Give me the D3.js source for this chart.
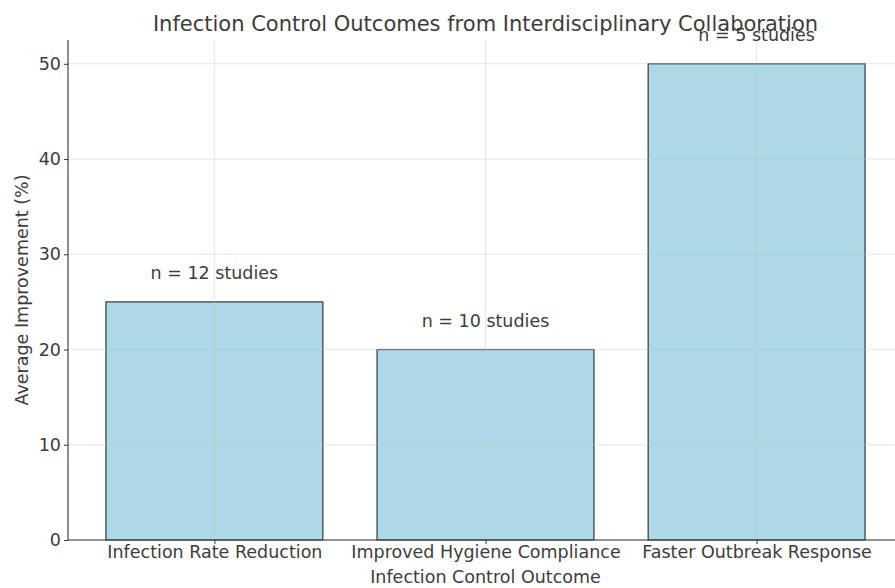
<!DOCTYPE html>
<html><head><meta charset="utf-8">
<script src="https://cdn.jsdelivr.net/npm/d3@7"></script>
<style>body{margin:0;background:#fff}text{font-family:"DejaVu Sans",sans-serif}</style>
</head><body><svg id="c" width="895" height="588"></svg>
<script>
const categories = ["Infection Rate Reduction", "Improved Hygiene Compliance", "Faster Outbreak Response"];
const values = [25, 20, 50];
const studies = [12, 10, 5];
const yTicks = [0, 10, 20, 30, 40, 50];
const title = "Infection Control Outcomes from Interdisciplinary Collaboration";
const xTitle = "Infection Control Outcome";
const yTitle = "Average Improvement (%)";

const svg = d3.select("#c");
const L = 68, R = 903, T = 40, B = 540;
const x = d3.scaleLinear().domain([-0.54, categories.length - 1 + 0.54]).range([L, R]);
const y = d3.scaleLinear().domain([0, 52.5]).range([B, T]);
const bw = x(0.8) - x(0);
const txt = "#3c3c3c";
const fs = 17.5;

const g = svg.append("g");
// bars
g.selectAll("rect.bar").data(values).join("rect")
  .attr("x", (d, i) => x(i) - bw / 2).attr("y", d => y(d))
  .attr("width", bw).attr("height", d => y(0) - y(d))
  .attr("fill", "#add8e6").attr("stroke", "#2a3a40").attr("stroke-width", 1.2);
// grid
g.selectAll("line.gy").data(yTicks).join("line")
  .attr("x1", L).attr("x2", R).attr("y1", d => y(d)).attr("y2", d => y(d))
  .attr("stroke", "#c8c8c8").attr("stroke-opacity", 0.45).attr("stroke-width", 1);
g.selectAll("line.gx").data(categories).join("line")
  .attr("x1", (d, i) => x(i)).attr("x2", (d, i) => x(i)).attr("y1", T).attr("y2", B)
  .attr("stroke", "#c8c8c8").attr("stroke-opacity", 0.45).attr("stroke-width", 1);

// axes
const ya = d3.axisLeft(y).tickValues(yTicks).tickSize(4).tickPadding(3);
const yg = svg.append("g").attr("transform", `translate(${L},0)`).call(ya);
yg.select(".domain").attr("d", `M0,${T}V${B}`).attr("stroke", "#333").attr("stroke-width", 1.1);
yg.selectAll("text").attr("font-size", fs).attr("fill", txt);
yg.selectAll(".tick line").attr("stroke", "#333");

const xa = d3.axisBottom(x).tickValues(categories.map((d, i) => i)).tickFormat(i => categories[i]).tickSize(4).tickPadding(2);
const xg = svg.append("g").attr("transform", `translate(0,${B})`).call(xa);
xg.select(".domain").attr("d", `M${L},0H${R}`).attr("stroke", "#333").attr("stroke-width", 1.1);
xg.selectAll("text").attr("font-size", fs).attr("fill", txt);
xg.selectAll(".tick line").attr("stroke", "#333");

// value labels
svg.selectAll("text.lab").data(values).join("text")
  .attr("x", (d, i) => x(i)).attr("y", d => y(d + 3)).attr("dy", "0.35em")
  .attr("text-anchor", "middle").attr("font-size", fs).attr("fill", txt)
  .text((d, i) => `n = ${studies[i]} studies`);

svg.append("text").attr("x", (L + R) / 2).attr("y", 31).attr("text-anchor", "middle")
  .attr("font-size", 21).attr("fill", txt).text(title);
svg.append("text").attr("x", (L + R) / 2).attr("y", 583).attr("text-anchor", "middle")
  .attr("font-size", fs).attr("fill", txt).text(xTitle);
svg.append("text").attr("transform", `translate(28,${(T + B) / 2}) rotate(-90)`).attr("text-anchor", "middle")
  .attr("font-size", fs).attr("fill", txt).text(yTitle);
</script></body></html>
